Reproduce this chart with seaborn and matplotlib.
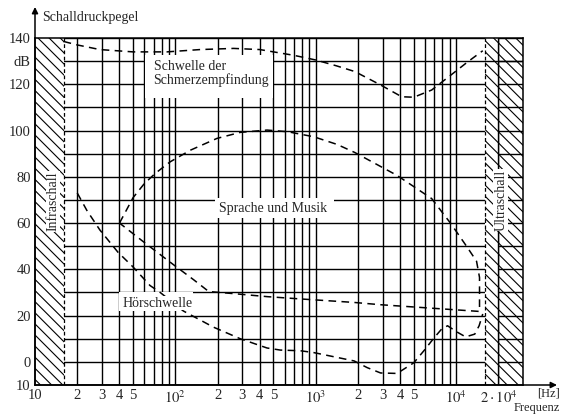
import numpy as np
import pandas as pd
import matplotlib
matplotlib.use('Agg')
import matplotlib.pyplot as plt
from matplotlib.patches import Rectangle
import seaborn as sns

sns.set_style("white")
plt.rcParams['font.family'] = ['Liberation Serif', 'DejaVu Serif']
plt.rcParams['mathtext.fontset'] = 'stix'
plt.rcParams['hatch.linewidth'] = 0.8

# ---------------- data ----------------
# Schwelle der Schmerzempfindung (threshold of pain)
pain_f = [16, 20, 29, 50, 87, 150, 260, 400, 560, 700, 1000, 1400, 1900,
          2900, 4100, 5000, 6700, 9200, 12000, 15500]
pain_db = [138.5, 137, 135, 134, 134, 135, 135.5, 135, 133.5, 132.5, 130.5,
           128, 125.5, 119.7, 114.6, 114.4, 117.5, 124, 129.5, 134.5]

# Sprache und Musik (closed region, clockwise from 40 Hz)
speech_f = [40, 50, 60, 72, 92, 128, 198, 290, 450, 630, 970, 1420, 1900,
            3800, 6700, 9200, 12000, 14000, 14700, 14700,
            2900, 1870, 780, 450, 260, 173, 135, 97, 59, 40]
speech_db = [60, 71, 77, 81.5, 86.5, 91.5, 96.6, 99.2, 100.2, 99.5, 97.3,
             94, 90.5, 80.6, 70.6, 59.7, 49.6, 43.5, 36.5, 21.8,
             24.7, 25.7, 27.2, 28.2, 29.5, 30.4, 35.5, 42, 52, 60]

# Hörschwelle (threshold of hearing)
hear_f = [20, 23.4, 29, 39, 50, 66, 78, 114, 187, 290, 450, 560, 780, 970,
          1880, 2330, 2900, 3800, 5000, 5900, 7000, 7900, 8700, 10300,
          11700, 13600, 14600, 15500]
hear_db = [73, 65.5, 57, 47.4, 41, 33, 30, 22, 15, 10, 6, 5.1, 4.8, 4.0,
           0.4, -2.5, -4.8, -5, -0.4, 4.8, 10.5, 14.2, 15.6, 12.7,
           10.8, 12, 15.6, 20.7]

x_tick_pos = [10, 20, 30, 40, 50, 60, 70, 80, 90,
              100, 200, 300, 400, 500, 600, 700, 800, 900,
              1000, 2000, 3000, 4000, 5000, 6000, 7000, 8000, 9000,
              10000, 20000]
x_tick_labels = ['10', '2', '3', '4', '5', '', '', '', '',
                 '$10^2$', '2', '3', '4', '5', '', '', '', '',
                 '$10^3$', '2', '3', '4', '5', '', '', '', '',
                 '$10^4$', r'$2\cdot10^4$']
y_tick_pos = list(range(-10, 141, 10))
y_tick_labels = ['10', '0', '', '20', '', '40', '', '60', '', '80', '',
                 '100', '', '120', 'dB', '140']

# audible band limits
F_LOW, F_HIGH = 16, 16000

# ---------------- figure ----------------
W, H = 561, 418
fig = plt.figure(figsize=(W / 100, H / 100), dpi=100)
ax = fig.add_axes([35 / W, 33 / H, 488 / W, 347 / H])
ax.set_xscale('log')
ax.set_xlim(10, 30000)
ax.set_ylim(-10, 140)

ax.set_xticks(x_tick_pos)
ax.set_xticklabels(x_tick_labels, fontsize=10.5)
ax.xaxis.set_minor_locator(matplotlib.ticker.NullLocator())
ax.set_yticks(y_tick_pos)
ax.set_yticklabels(y_tick_labels, fontsize=10.5)
ax.tick_params(length=0, pad=3)
ax.grid(True, color='k', lw=1.0)
ax.set_axisbelow(True)
for s in ax.spines.values():
    s.set_color('k')
    s.set_linewidth(1.1)

# hatched infra / ultra sound regions
ax.axvspan(10, F_LOW, facecolor='white', edgecolor='k', hatch='\\\\\\', lw=0, zorder=1.5)
ax.axvspan(F_HIGH, 20000, facecolor='white', edgecolor='k', hatch='\\\\\\', lw=0, zorder=1.5)
ax.axvspan(20000, 30000, facecolor='none', edgecolor='k', hatch='\\\\\\', lw=0, zorder=1.5)
ax.axvline(F_LOW, color='k', lw=0.9, ls=(0, (3, 2)), zorder=2)
ax.axvline(F_HIGH, color='k', lw=0.9, ls=(0, (3, 2)), zorder=2)
ax.axvline(20000, color='k', lw=1.0, zorder=2)
ax.axhline(130, xmin=(np.log10(F_HIGH) - 1) / np.log10(3000), color='k', lw=1.0, zorder=2)

# white label boxes hiding the grid
for (x0, x1, y0, y1) in [(61, 494, 114, 132.5), (193, 1340, 62, 70.7), (40, 134, 22, 30)]:
    ax.add_patch(Rectangle((x0, y0), x1 - x0, y1 - y0, facecolor='white',
                           edgecolor='none', zorder=2.5))

# curves
for fx, fy in [(pain_f, pain_db), (speech_f, speech_db), (hear_f, hear_db)]:
    sns.lineplot(x=fx, y=fy, sort=False, estimator=None, color='k', lw=1.1,
                 linestyle=(0, (5, 3.5)), ax=ax, zorder=4)

# labels
ax.text(70, 127.8, 'Schwelle der', fontsize=10, ha='left', va='center', zorder=5)
ax.text(70, 122.0, 'Schmerzempfindung', fontsize=10, ha='left', va='center', zorder=5)
ax.text(500, 66.5, 'Sprache und Musik', fontsize=10, ha='center', va='center', zorder=5)
ax.text(75, 25.4, 'Hörschwelle', fontsize=10, ha='center', va='center', zorder=5,
        bbox=dict(facecolor='white', edgecolor='none', pad=0.3))
ax.text(13.4, 69.5, 'Infraschall', fontsize=10, rotation=90, ha='center', va='center',
        zorder=5, bbox=dict(facecolor='white', edgecolor='none', pad=0.5))
ax.text(20800, 70, 'Ultraschall', fontsize=10, rotation=90, ha='center', va='center',
        zorder=5, bbox=dict(facecolor='white', edgecolor='none', pad=0.5))

# axis arrows
arrow = dict(arrowstyle='-|>', color='k', lw=1.1, mutation_scale=9, shrinkA=0, shrinkB=0)
ax.annotate('', xy=(35 / W, (H - 7) / H), xytext=(35 / W, 33 / H),
            xycoords='figure fraction', textcoords='figure fraction', arrowprops=arrow)
ax.annotate('', xy=(557 / W, 33 / H), xytext=(35 / W, 33 / H),
            xycoords='figure fraction', textcoords='figure fraction', arrowprops=arrow)

fig.text(42 / W, 1 - 18 / H, 'Schalldruckpegel', fontsize=10, ha='left', va='center')
fig.text(560 / W, 1 - 394 / H, '[Hz]', fontsize=9, ha='right', va='center')
fig.text(560 / W, 1 - 408 / H, 'Frequenz', fontsize=9, ha='right', va='center')

fig.savefig('out.png', dpi=100)
